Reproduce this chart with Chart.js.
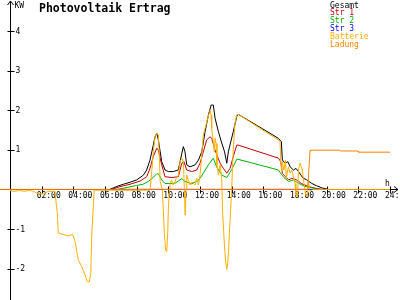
<!DOCTYPE html>
<html>
<head>
<meta charset="utf-8">
<script src="https://cdn.jsdelivr.net/npm/chart.js@4"></script>
<style>
body { margin: 0; background: #fff; }
</style>
</head>
<body>
<canvas id="pvChart" width="400" height="300"></canvas>
<script>
// Zeiten in Stunden, Werte in kW
var gesamtZeit = [6.3, 6.85, 7.16, 7.58, 8.0, 8.42, 8.63, 8.84, 9.05, 9.16, 9.27, 9.37, 9.58,
    9.79, 10.0, 10.31, 10.63, 10.85, 10.95, 11.05, 11.16, 11.37, 11.69, 11.9, 12.11, 12.32,
    12.53, 12.7, 12.84, 12.95, 13.16, 13.35, 13.55, 13.69, 13.79, 14.1, 14.32, 14.4,
    16.95, 17.14, 17.2, 17.37, 17.55, 17.69, 17.9, 18.06, 18.22, 18.38, 18.5, 18.74,
    19.06, 19.37, 19.69, 20.1];
var gesamtWerte = [0, 0.09, 0.13, 0.18, 0.24, 0.36, 0.49, 0.74, 1.12, 1.33, 1.42, 1.25, 0.7,
    0.49, 0.45, 0.45, 0.49, 0.91, 1.08, 0.95, 0.62, 0.57, 0.62, 0.74, 0.95, 1.46,
    1.88, 2.13, 2.13, 1.8, 1.46, 1.2, 0.95, 0.66, 0.95, 1.46, 1.84, 1.9,
    1.29, 1.2, 0.74, 0.66, 0.7, 0.57, 0.49, 0.53, 0.45, 0.36, 0.29, 0.24,
    0.15, 0.09, 0.04, 0];

var str1Zeit = [6.4, 6.95, 7.58, 8.21, 8.63, 8.84, 9.05, 9.27, 9.37, 9.58, 9.79, 10.22, 10.63,
    10.85, 10.99, 11.16, 11.48, 11.79, 12.0, 12.21, 12.42, 12.63, 12.74, 12.95, 13.27, 13.48,
    13.69, 13.9, 14.1, 14.32, 14.4, 16.95, 17.1, 17.2, 17.6, 17.8, 18.1, 18.4, 18.85,
    19.27, 19.7];
var str1Werte = [0, 0.07, 0.13, 0.21, 0.32, 0.53, 0.83, 1.04, 0.99, 0.62, 0.32, 0.3, 0.32,
    0.66, 0.7, 0.49, 0.45, 0.49, 0.66, 0.95, 1.25, 1.33, 1.29, 0.99, 0.66, 0.53,
    0.41, 0.53, 0.83, 1.12, 1.12, 0.79, 0.7, 0.4, 0.24, 0.28, 0.24, 0.15, 0.07,
    0.03, 0];

var str2Zeit = [6.8, 7.4, 8.0, 8.4, 8.73, 9.05, 9.27, 9.4, 9.58, 9.79, 10.4, 10.85, 11.05,
    11.48, 11.9, 12.2, 12.53, 12.84, 13.05, 13.38, 13.69, 14.0, 14.32, 14.4, 16.95, 17.14,
    17.3, 17.6, 17.9, 18.2, 18.6, 19.1, 19.5];
var str2Werte = [0, 0.05, 0.1, 0.13, 0.2, 0.3, 0.4, 0.38, 0.24, 0.15, 0.15, 0.27, 0.2,
    0.14, 0.23, 0.4, 0.62, 0.79, 0.57, 0.36, 0.3, 0.5, 0.76, 0.76, 0.49, 0.38,
    0.3, 0.2, 0.24, 0.16, 0.08, 0.04, 0];

var str3Zeit = [6.3, 20.1];
var str3Werte = [0, 0];

var battZeit = [0, 0.3, 0.6, 0.9, 1.2, 1.5, 1.7, 2.08, 2.4, 2.84, 2.9, 2.99, 3.05,
    3.47, 3.79, 3.96, 4.11, 4.31, 4.53, 4.74, 4.88, 5.01, 5.1, 5.16, 5.26, 5.32,
    8.84, 8.95, 9.05, 9.16, 9.27, 9.37, 9.43, 9.48, 9.62, 9.68, 9.75, 9.83, 9.9,
    9.96, 10.0, 10.06, 10.1, 10.2, 10.3, 10.42, 10.5, 10.63, 10.74, 10.85, 10.95, 11.01,
    11.06, 11.12, 11.16, 11.26, 11.37, 11.48, 11.69, 11.79, 11.9, 12.0, 12.11, 12.21, 12.32,
    12.49, 12.57, 12.63, 12.7, 12.74, 12.84, 12.9, 12.95, 13.01, 13.07, 13.16, 13.27, 13.37,
    13.43, 13.5, 13.56, 13.62, 13.69, 13.75, 13.81, 13.9, 14.0, 14.1, 14.21, 14.32, 14.4,
    17.05, 17.1, 17.16, 17.2, 17.3, 17.4, 17.45, 17.58, 17.69, 17.8, 17.9, 18.0,
    18.05, 18.16, 18.22, 18.32, 18.46, 18.57, 18.67, 18.77, 18.84, 18.95, 19.1, 24];
var battWerte = [-0.03, -0.05, -0.02, -0.05, -0.02, -0.05, -0.1, -0.12, -0.05, -0.05, -0.3, -0.6, -1.1,
    -1.15, -1.17, -1.13, -1.32, -1.78, -1.95, -2.16, -2.33, -2.33, -2.12, -1.19, -0.44, -0.02,
    -0.02, 0.45, 0.95, 1.33, 1.42, 1.37, 0.87, 0.2, 0, -0.52, -1.11, -1.53, -1.57,
    -1.1, -0.52, 0, 0.15, 0.24, 0.11, 0.19, 0.28, 0.36, 0.7, 0.79, 0.7, 0.04,
    -0.65, 0, 0.36, 0.24, 0.11, 0.19, 0.11, 0.28, 0.11, 0.36, 0.87, 1.37, 1.54,
    1.8, 1.92, 2.0, 1.88, 1.54, 1.2, 0.95, 1.29, 1.16, 0.62, 0.36, 0.62, 0.28,
    -0.6, -1.11, -1.53, -1.82, -2.02, -1.86, -1.49, -0.77, 0, 1.0, 1.67, 1.88, 1.9,
    1.22, 0.7, 0.45, 0.7, 0.49, 0.74, 0.28, 0.57, 0.41, 0.49, 0.32, 0.15,
    -0.1, -0.18, 0.49, 0.66, 0.49, 0.15, -0.14, -0.18, 0.24, -0.05, 0, 0];

var ladungZeit = [-0.63, 18.8, 18.95, 20.84, 20.86, 21.98, 22.0, 24];
var ladungWerte = [0, 0, 0.99, 0.99, 0.97, 0.97, 0.94, 0.94];

var xTicks = [2, 4, 6, 8, 10, 12, 14, 16, 18, 20, 22, 24];
var xTickLabels = ['02:00', '04:00', '06:00', '08:00', '10:00', '12:00', '14:00', '16:00', '18:00', '20:00', '22:00', '24:00'];
var yTicks = [4, 3, 2, 1, -1, -2];
var yTickLabels = ['4', '3', '2', '1', '-1', '-2'];

var serienNamen = ['Gesamt', 'Str 1', 'Str 2', 'Str 3', 'Batterie', 'Ladung'];
var serienFarben = ['#000000', '#c00000', '#00b000', '#0000ff', '#ffb000', '#ff8000'];

var monoFont = '"DejaVu Sans Mono", "Liberation Mono", monospace';

function toPoints(zeit, werte) {
    return zeit.map(function (t, i) {
        return { x: t, y: werte[i] };
    });
}

function makeDataset(idx, zeit, werte) {
    return {
        label: serienNamen[idx],
        data: toPoints(zeit, werte),
        borderColor: serienFarben[idx],
        backgroundColor: 'transparent',
        borderWidth: 1,
        pointRadius: 0,
        tension: 0,
        fill: false,
        order: 6 - idx
    };
}

// Achsen, Beschriftung, Titel und Legende
var pvAxesPlugin = {
    id: 'pvAxes',
    beforeDatasetsDraw: function (chart) {
        var ctx = chart.ctx;
        var xs = chart.scales.x;
        var ys = chart.scales.y;
        var x0 = Math.round(xs.getPixelForValue(0)) + 0.5;
        var y0 = Math.round(ys.getPixelForValue(0)) + 0.5;
        var w = chart.width;
        var h = chart.height;

        ctx.save();
        ctx.strokeStyle = '#000';
        ctx.lineWidth = 1;
        ctx.beginPath();
        ctx.moveTo(x0, h);
        ctx.lineTo(x0, 1);
        ctx.moveTo(x0 - 3, 5);
        ctx.lineTo(x0, 1);
        ctx.lineTo(x0 + 3, 5);
        ctx.moveTo(0, y0);
        ctx.lineTo(w - 2, y0);
        ctx.moveTo(w - 6, y0 - 3);
        ctx.lineTo(w - 2, y0);
        ctx.lineTo(w - 6, y0 + 3);

        yTicks.forEach(function (v) {
            var py = Math.round(ys.getPixelForValue(v)) + 0.5;
            ctx.moveTo(x0 - 3, py);
            ctx.lineTo(x0 + 4, py);
        });
        xTicks.forEach(function (t) {
            var px = Math.round(xs.getPixelForValue(t)) + 0.5;
            ctx.moveTo(px, y0 - 3);
            ctx.lineTo(px, y0 + 4);
        });
        ctx.stroke();

        ctx.fillStyle = '#000';
        ctx.font = '8px ' + monoFont;
        ctx.textAlign = 'left';
        ctx.textBaseline = 'middle';
        yTicks.forEach(function (v, i) {
            ctx.fillText(yTickLabels[i], x0 + 5, ys.getPixelForValue(v) + 0.5);
        });
        ctx.textBaseline = 'alphabetic';
        xTicks.forEach(function (t, i) {
            ctx.fillText(xTickLabels[i], xs.getPixelForValue(t) - 5, y0 + 8);
        });
        ctx.fillText('KW', x0 + 4, 8);
        ctx.fillText('h', xs.getPixelForValue(24) - 5, y0 - 4);
        ctx.restore();
    },
    afterDraw: function (chart) {
        var ctx = chart.ctx;
        ctx.save();
        ctx.textAlign = 'left';
        ctx.textBaseline = 'alphabetic';
        ctx.fillStyle = '#000';
        ctx.font = 'bold 11.5px ' + monoFont;
        ctx.fillText('Photovoltaik Ertrag', 39, 12);
        ctx.font = '8px ' + monoFont;
        serienNamen.forEach(function (name, i) {
            ctx.fillStyle = serienFarben[i];
            ctx.fillText(name, 330, 7.5 + i * 7.85);
        });
        ctx.restore();
    }
};

var pvCanvas = document.getElementById('pvChart');

var pvChart = new Chart(pvCanvas, {
    type: 'line',
    data: {
        datasets: [
            makeDataset(0, gesamtZeit, gesamtWerte),
            makeDataset(1, str1Zeit, str1Werte),
            makeDataset(2, str2Zeit, str2Werte),
            makeDataset(3, str3Zeit, str3Werte),
            makeDataset(4, battZeit, battWerte),
            makeDataset(5, ladungZeit, ladungWerte)
        ]
    },
    options: {
        responsive: false,
        maintainAspectRatio: false,
        devicePixelRatio: 1,
        animation: false,
        layout: { padding: 0 },
        plugins: {
            legend: { display: false },
            tooltip: { enabled: false },
            title: { display: false }
        },
        scales: {
            x: { type: 'linear', min: -0.632, max: 24.63, display: false },
            y: { type: 'linear', min: -2.793, max: 4.783, display: false }
        }
    },
    plugins: [pvAxesPlugin]
});
</script>
</body>
</html>
